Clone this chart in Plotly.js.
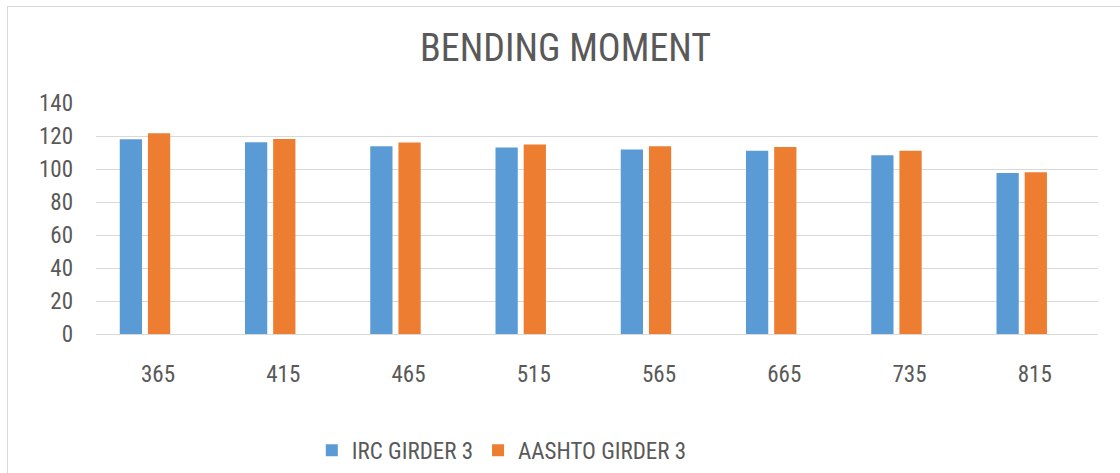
<!DOCTYPE html>
<html>
<head>
<meta charset="utf-8">
<script src="https://cdn.plot.ly/plotly-3.0.1.min.js"></script>
<style>
html,body{margin:0;padding:0;background:#fff;}
#frame{position:absolute;left:7px;top:6px;width:1120px;height:480px;border:1px solid #d9d9d9;box-sizing:border-box;}
#chart{position:absolute;left:0;top:0;width:1120px;height:473px;}
</style>
</head>
<body>
<div id="frame"></div>
<div id="chart"></div>
<script>
const categories = ["365","415","465","515","565","665","735","815"];
const ircGirder3 = [118, 116.2, 113.8, 113, 111.8, 111, 108.4, 97.6];
const aashtoGirder3 = [121.6, 118.2, 116, 114.8, 113.8, 113.4, 111, 98];
const seriesNames = ["IRC GIRDER 3", "AASHTO GIRDER 3"];
const yTicks = [0,20,40,60,80,100,120,140];

const positions = categories.map((c, i) => i);
const labelShift = 0.104;

const font = "Liberation Sans Narrow, Roboto Condensed, Liberation Sans, sans-serif";
const textColor = "#595959";

const data = [
  {type:"bar", name:seriesNames[0], x:positions, y:ircGirder3, marker:{color:"#5b9bd5"}, hoverinfo:"y"},
  {type:"bar", name:seriesNames[1], x:positions, y:aashtoGirder3, marker:{color:"#ed7d31"}, hoverinfo:"y"}
];

const layout = {
  width:1120, height:473,
  paper_bgcolor:"rgba(0,0,0,0)", plot_bgcolor:"rgba(0,0,0,0)",
  margin:{l:96, r:22, t:103, b:139, autoexpand:false},
  title:{text:"BENDING MOMENT", font:{family:font, size:38, color:textColor}, x:0.505, xanchor:"center", y:0.9, yanchor:"middle"},
  barmode:"group", bargap:0.55, bargroupgap:0.21,
  xaxis:{type:"linear", range:[-0.391, 7.609], tickvals:positions.map(p => p + labelShift), ticktext:categories,
         showgrid:false, zeroline:false, showline:true, linecolor:"#d9d9d9", linewidth:1, automargin:false,
         tickfont:{family:font, size:23, color:textColor}, ticks:"", ticklabelstandoff:19, fixedrange:true},
  yaxis:{range:[0,140], tickvals:yTicks, ticktext:yTicks.map(String), showgrid:true, gridcolor:"#d9d9d9", gridwidth:1,
         zeroline:false, showline:false, automargin:false, tickfont:{family:font, size:23, color:textColor}, ticks:"", ticklabelstandoff:22, fixedrange:true},
  showlegend:true,
  legend:{orientation:"h", x:0.405, xanchor:"center", yref:"container", y:0.048, yanchor:"middle", font:{family:font, size:23, color:textColor},
          itemwidth:30, traceorder:"normal"}
};

Plotly.newPlot("chart", data, layout, {displayModeBar:false, staticPlot:true});
</script>
</body>
</html>
